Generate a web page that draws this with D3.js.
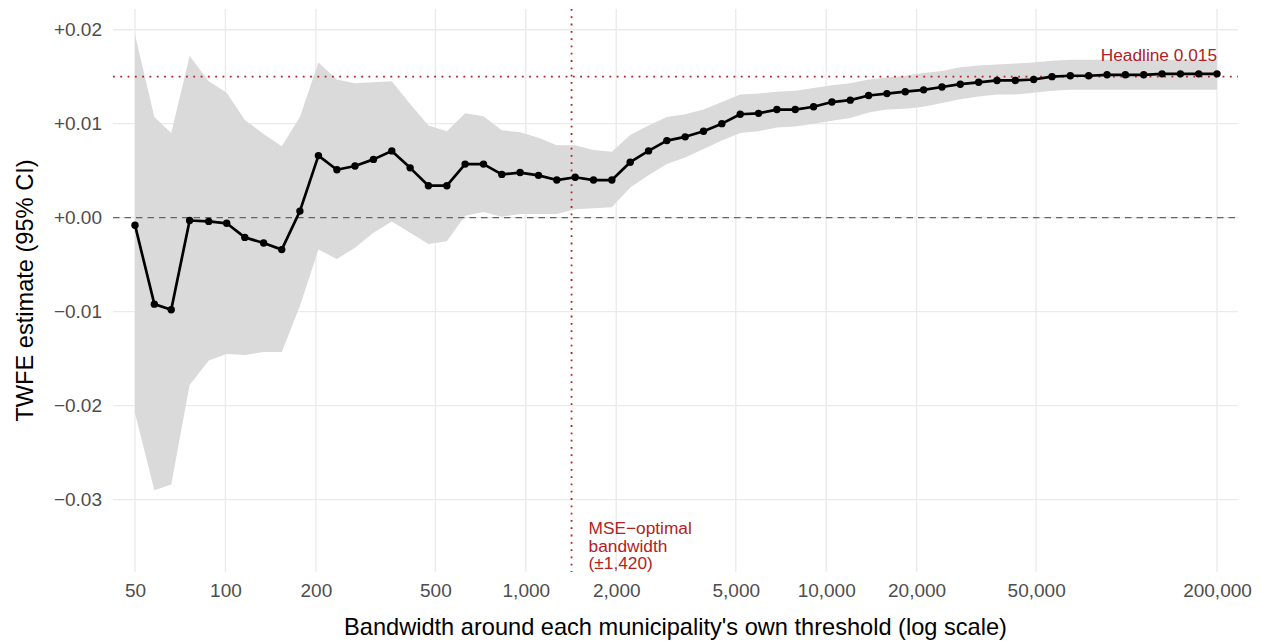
<!DOCTYPE html>
<html>
<head>
<meta charset="utf-8">
<script src="https://cdn.jsdelivr.net/npm/d3@7"></script>
<style>
  body { margin: 0; background: #fff; }
  text { font-family: "Liberation Sans", Arial, sans-serif; }
</style>
</head>
<body>
<div id="graph"></div>
<script>
// bandwidth grid (log spaced), point estimate and 95% CI
var bandwidth = [50, 58, 66, 76, 88, 101, 116, 134, 154, 177, 204, 235, 270, 311, 358, 412, 474, 546, 628, 723,
    832, 957, 1102, 1268, 1460, 1680, 1934, 2226, 2562, 2948, 3393, 3906, 4495, 5174, 5955, 6853, 7888, 9079, 10449, 12026,
    13841, 15930, 18335, 21103, 24288, 27955, 32174, 37031, 42621, 49054, 56459, 64981, 74790, 86080, 99074, 114029, 131241, 151052, 173853, 200000];

var estimate = [-0.0008, -0.0092, -0.0098, -0.0003, -0.0004, -0.0006, -0.0021, -0.0027, -0.0034, 0.0007,
    0.0066, 0.0051, 0.0055, 0.0062, 0.0071, 0.0053, 0.0034, 0.0034, 0.0057, 0.0057,
    0.0046, 0.0048, 0.0045, 0.0040, 0.0043, 0.0040, 0.0040, 0.0059, 0.0071, 0.0082,
    0.0086, 0.0092, 0.0100, 0.0110, 0.0111, 0.0115, 0.0115, 0.0118, 0.0123, 0.0125,
    0.0130, 0.0132, 0.0134, 0.0136, 0.0139, 0.0142, 0.0144, 0.0146, 0.0146, 0.0147,
    0.0150, 0.0151, 0.0151, 0.0152, 0.0152, 0.0152, 0.0153, 0.0153, 0.0153, 0.0153];

var ciLow = [-0.0208, -0.0290, -0.0284, -0.0178, -0.0152, -0.0145, -0.0146, -0.0143, -0.0143, -0.0094,
    -0.0034, -0.0044, -0.0032, -0.0016, -0.0004, -0.0016, -0.0028, -0.0025, 0.0002, 0.0006,
    0.0001, 0.0004, 0.0004, 0.0004, 0.0009, 0.0010, 0.0011, 0.0032, 0.0045, 0.0057,
    0.0064, 0.0073, 0.0082, 0.0090, 0.0092, 0.0096, 0.0097, 0.0100, 0.0103, 0.0106,
    0.0112, 0.0115, 0.0116, 0.0118, 0.0122, 0.0126, 0.0129, 0.0131, 0.0131, 0.0133,
    0.0135, 0.0136, 0.0136, 0.0136, 0.0136, 0.0136, 0.0136, 0.0136, 0.0136, 0.0136];

var ciHigh = [0.0195, 0.0107, 0.0090, 0.0172, 0.0145, 0.0133, 0.0104, 0.0089, 0.0076, 0.0107,
    0.0165, 0.0147, 0.0143, 0.0144, 0.0145, 0.0121, 0.0098, 0.0092, 0.0111, 0.0108,
    0.0093, 0.0091, 0.0085, 0.0077, 0.0077, 0.0072, 0.0070, 0.0088, 0.0098, 0.0107,
    0.0110, 0.0115, 0.0123, 0.0131, 0.0132, 0.0134, 0.0135, 0.0138, 0.0141, 0.0143,
    0.0147, 0.0149, 0.0151, 0.0154, 0.0156, 0.0160, 0.0162, 0.0163, 0.0164, 0.0165,
    0.0167, 0.0168, 0.0168, 0.0168, 0.0168, 0.0168, 0.0168, 0.0168, 0.0168, 0.0168];

var xTicks = [50, 100, 200, 500, 1000, 2000, 5000, 10000, 20000, 50000, 200000];
var yTicks = [-0.03, -0.02, -0.01, 0, 0.01, 0.02];
var headline = 0.015;
var optimalBw = 1420;

var width = 1261,
    height = 642,
    panel = { left: 113, right: 1238, top: 9, bottom: 572 };

var red = "#B22222";

var svg = d3.select("#graph")
    .append("svg")
    .attr("width", width)
    .attr("height", height);

var x = d3.scaleLog()
    .domain([50, 200000])
    .range([135, 1217]);

var y = d3.scaleLinear()
    .domain([-0.0377, 0.0222])
    .range([panel.bottom, panel.top]);

var data = bandwidth.map(function (b, i) {
    return { bw: b, est: estimate[i], lo: ciLow[i], hi: ciHigh[i] };
});

// grid
svg.append("g")
    .selectAll("line")
    .data(yTicks)
    .enter()
    .append("line")
    .attr("x1", panel.left)
    .attr("x2", panel.right)
    .attr("y1", function (d) { return y(d); })
    .attr("y2", function (d) { return y(d); })
    .attr("stroke", "#EBEBEB")
    .attr("stroke-width", 1.4);

svg.append("g")
    .selectAll("line")
    .data(xTicks)
    .enter()
    .append("line")
    .attr("x1", function (d) { return x(d); })
    .attr("x2", function (d) { return x(d); })
    .attr("y1", panel.top)
    .attr("y2", panel.bottom)
    .attr("stroke", "#EBEBEB")
    .attr("stroke-width", 1.4);

// confidence band
var area = d3.area()
    .x(function (d) { return x(d.bw); })
    .y0(function (d) { return y(d.lo); })
    .y1(function (d) { return y(d.hi); });

svg.append("path")
    .datum(data)
    .attr("d", area)
    .attr("fill", "#DADADA");

// zero line
svg.append("line")
    .attr("x1", panel.left)
    .attr("x2", panel.right)
    .attr("y1", y(0))
    .attr("y2", y(0))
    .attr("stroke", "#666666")
    .attr("stroke-width", 1.3)
    .attr("stroke-dasharray", "6.5,5");

// headline + optimal bandwidth reference lines
svg.append("line")
    .attr("x1", panel.left)
    .attr("x2", panel.right)
    .attr("y1", y(headline))
    .attr("y2", y(headline))
    .attr("stroke", red)
    .attr("stroke-width", 1.8)
    .attr("stroke-dasharray", "1.8,5.5");

svg.append("line")
    .attr("x1", x(optimalBw))
    .attr("x2", x(optimalBw))
    .attr("y1", panel.top)
    .attr("y2", panel.bottom)
    .attr("stroke", red)
    .attr("stroke-width", 1.8)
    .attr("stroke-dasharray", "1.8,5.5");

// estimate line and points
var line = d3.line()
    .x(function (d) { return x(d.bw); })
    .y(function (d) { return y(d.est); });

svg.append("path")
    .datum(data)
    .attr("d", line)
    .attr("fill", "none")
    .attr("stroke", "#000")
    .attr("stroke-width", 2.7)
    .attr("stroke-linejoin", "round");

svg.append("g")
    .selectAll("circle")
    .data(data)
    .enter()
    .append("circle")
    .attr("cx", function (d) { return x(d.bw); })
    .attr("cy", function (d) { return y(d.est); })
    .attr("r", 3.7)
    .attr("fill", "#000");

// annotations
svg.append("text")
    .attr("x", x(200000))
    .attr("y", y(headline) - 16)
    .attr("text-anchor", "end")
    .attr("fill", red)
    .style("font-size", "17.3px")
    .text("Headline 0.015");

var note = svg.append("text")
    .attr("x", x(optimalBw) + 17)
    .attr("y", 534)
    .attr("fill", red)
    .style("font-size", "17.3px");

["MSE\u2212optimal", "bandwidth", "(\u00B11,420)"].forEach(function (s, i) {
    note.append("tspan")
        .attr("x", x(optimalBw) + 17)
        .attr("dy", i == 0 ? 0 : 17.5)
        .text(s);
});

// axes
var xAxis = svg.append("g")
    .attr("transform", "translate(0," + panel.bottom + ")")
    .call(d3.axisBottom(x)
        .tickValues(xTicks)
        .tickFormat(d3.format(","))
        .tickSize(0)
        .tickPadding(12));

var yAxis = svg.append("g")
    .attr("transform", "translate(" + panel.left + ",0)")
    .call(d3.axisLeft(y)
        .tickValues(yTicks)
        .tickFormat(function (d) {
            if (d < 0) return "\u2212" + Math.abs(d).toFixed(2);
            return "+" + d.toFixed(2);
        })
        .tickSize(0)
        .tickPadding(11));

[xAxis, yAxis].forEach(function (g) {
    g.select(".domain").remove();
    g.selectAll("text")
        .attr("fill", "#4D4D4D")
        .style("font-size", "19px")
        .style("font-family", "'Liberation Sans', Arial, sans-serif");
});

// axis titles
svg.append("text")
    .attr("x", (panel.left + panel.right) / 2)
    .attr("y", 635)
    .attr("text-anchor", "middle")
    .attr("fill", "#000")
    .style("font-size", "23.6px")
    .text("Bandwidth around each municipality's own threshold (log scale)");

svg.append("text")
    .attr("transform", "translate(33," + (panel.top + panel.bottom) / 2 + ") rotate(-90)")
    .attr("text-anchor", "middle")
    .attr("fill", "#000")
    .style("font-size", "23.6px")
    .text("TWFE estimate (95% CI)");
</script>
</body>
</html>
